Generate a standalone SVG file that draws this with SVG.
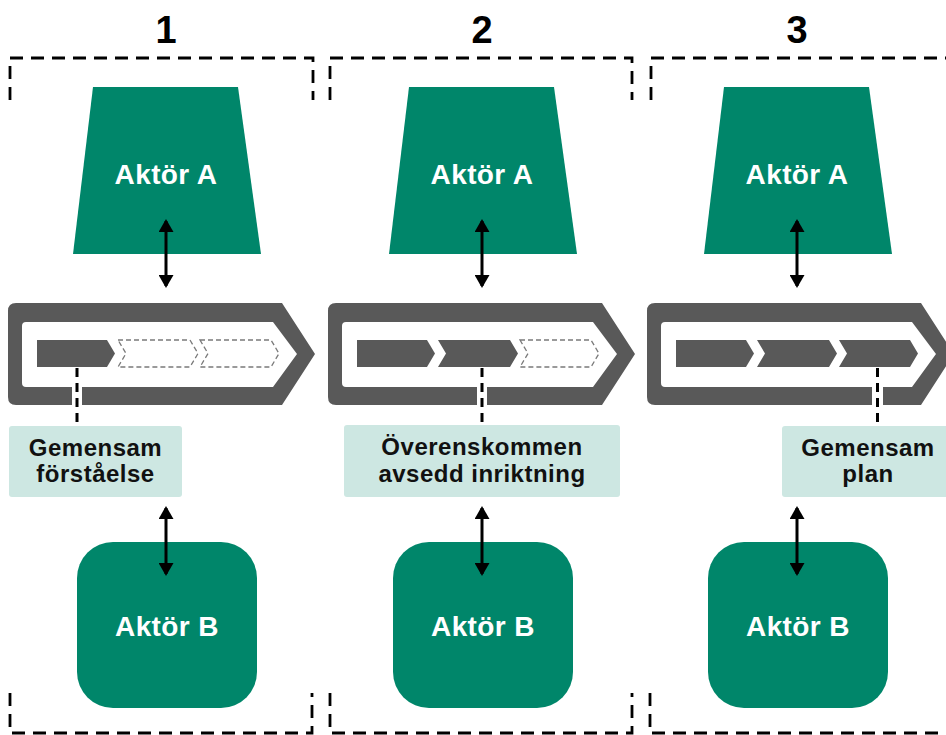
<svg xmlns="http://www.w3.org/2000/svg" width="946" height="735" viewBox="0 0 946 735">
<defs>
<style>
.num{font-family:"Liberation Sans",Arial,sans-serif;font-weight:bold;font-size:38px;fill:#000;text-anchor:middle}
.act{font-family:"Liberation Sans",Arial,sans-serif;font-weight:bold;font-size:28px;fill:#fff;text-anchor:middle;letter-spacing:0.4px}
.lbl{font-family:"Liberation Sans",Arial,sans-serif;font-weight:bold;font-size:24px;fill:#111;text-anchor:middle;letter-spacing:0.5px}
.green{fill:#00866A}
.box{fill:#CDE7E2}
.bracket{fill:none;stroke:#000;stroke-width:2.8;stroke-dasharray:13 8}
.dash{fill:none;stroke:#000;stroke-width:3;stroke-dasharray:9 6}
.arr{stroke:#000;stroke-width:3;marker-start:url(#ah);marker-end:url(#ah)}
.big{fill:#595959;fill-rule:evenodd}
.csolid{fill:#595959}
.cdash{fill:#fff;stroke:#7a7a7a;stroke-width:1.3;stroke-dasharray:5 3}
</style>
<marker id="ah" markerUnits="userSpaceOnUse" markerWidth="14" markerHeight="15" refX="11" refY="7.5" orient="auto-start-reverse">
<path d="M0,0 L13,7.5 L0,15 Z" fill="#000"/>
</marker>
</defs>
<rect width="946" height="735" fill="#fff"/>

<g id="brackets">
<path class="bracket" d="M10,100 V58 H313 V100"/>
<path class="bracket" d="M330,100 V58 H632 V100"/>
<path class="bracket" d="M651,100 V58 H946"/>
<path class="bracket" d="M10,693 V733 H312 V693"/>
<path class="bracket" d="M330,693 V733 H632 V693"/>
<path class="bracket" d="M650,693 V733 H946"/>
</g>

<g id="numbers">
<text class="num" x="166" y="43">1</text>
<text class="num" x="482" y="43">2</text>
<text class="num" x="797" y="43">3</text>
</g>

<g id="process1">
<path class="big" d="M16,303 H282 L315,354 L282,405 H16 Q8,405 8,397 V311 Q8,303 16,303 Z M26,322 H273 L297,354 L273,387 H26 Q22,387 22,383 V326 Q22,322 26,322 Z"/>
<rect x="72" y="385" width="10" height="22" fill="#fff"/>
<path class="csolid" d="M37,340 H107 L115,353.5 L107,367 H37 Z"/>
<path class="cdash" d="M118,340 H190 L198,353.5 L190,367 H118 L126,353.5 Z"/>
<path class="cdash" d="M200,340 H271 L279,353.5 L271,367 H200 L208,353.5 Z"/>
</g>
<g id="process2" transform="translate(320,0)">
<path class="big" d="M16,303 H282 L315,354 L282,405 H16 Q8,405 8,397 V311 Q8,303 16,303 Z M26,322 H273 L297,354 L273,387 H26 Q22,387 22,383 V326 Q22,322 26,322 Z"/>
<rect x="157" y="385" width="10" height="22" fill="#fff"/>
<path class="csolid" d="M37,340 H107 L115,353.5 L107,367 H37 Z"/>
<path class="csolid" d="M118,340 H190 L198,353.5 L190,367 H118 L126,353.5 Z"/>
<path class="cdash" d="M200,340 H271 L279,353.5 L271,367 H200 L208,353.5 Z"/>
</g>
<g id="process3" transform="translate(639,0)">
<path class="big" d="M16,303 H282 L315,354 L282,405 H16 Q8,405 8,397 V311 Q8,303 16,303 Z M26,322 H273 L297,354 L273,387 H26 Q22,387 22,383 V326 Q22,322 26,322 Z"/>
<rect x="233" y="385" width="11" height="22" fill="#fff"/>
<path class="csolid" d="M37,340 H107 L115,353.5 L107,367 H37 Z"/>
<path class="csolid" d="M118,340 H190 L198,353.5 L190,367 H118 L126,353.5 Z"/>
<path class="csolid" d="M200,340 H271 L279,353.5 L271,367 H200 L208,353.5 Z"/>
</g>

<g id="actorA1"><path class="green" d="M93,87 H238 L261,254 H73 Z"/><text class="act" x="166" y="184">Aktör A</text></g>
<g id="actorA2"><path class="green" d="M409,87 H554 L577,254 H389 Z"/><text class="act" x="482" y="184">Aktör A</text></g>
<g id="actorA3"><path class="green" d="M724,87 H869 L892,254 H704 Z"/><text class="act" x="797" y="184">Aktör A</text></g>

<g id="label1"><rect class="box" x="9" y="426" width="173" height="71" rx="3"/><text class="lbl" x="95.5" y="456">Gemensam</text><text class="lbl" x="95.5" y="482">förståelse</text></g>
<g id="label2"><rect class="box" x="344" y="425" width="276" height="72" rx="3"/><text class="lbl" x="482" y="455">Överenskommen</text><text class="lbl" x="482" y="482">avsedd inriktning</text></g>
<g id="label3"><rect class="box" x="782" y="426" width="170" height="71" rx="3"/><text class="lbl" x="868" y="456">Gemensam</text><text class="lbl" x="868" y="482">plan</text></g>

<g id="actorB1"><rect class="green" x="77" y="542" width="180" height="166" rx="36"/><text class="act" x="167" y="636">Aktör B</text></g>
<g id="actorB2"><rect class="green" x="393" y="542" width="180" height="166" rx="36"/><text class="act" x="483" y="636">Aktör B</text></g>
<g id="actorB3"><rect class="green" x="708" y="542" width="180" height="166" rx="36"/><text class="act" x="798" y="636">Aktör B</text></g>

<g id="connectors">
<line class="arr" x1="166" y1="221" x2="166" y2="286"/>
<line class="arr" x1="482" y1="221" x2="482" y2="286"/>
<line class="arr" x1="797" y1="221" x2="797" y2="286"/>
<line class="arr" x1="166" y1="508" x2="166" y2="574"/>
<line class="arr" x1="482" y1="508" x2="482" y2="574"/>
<line class="arr" x1="797" y1="508" x2="797" y2="574"/>
<line class="dash" x1="77" y1="368" x2="77" y2="426"/>
<line class="dash" x1="482" y1="368" x2="482" y2="425"/>
<line class="dash" x1="877.5" y1="368" x2="877.5" y2="426"/>
</g>
</svg>
